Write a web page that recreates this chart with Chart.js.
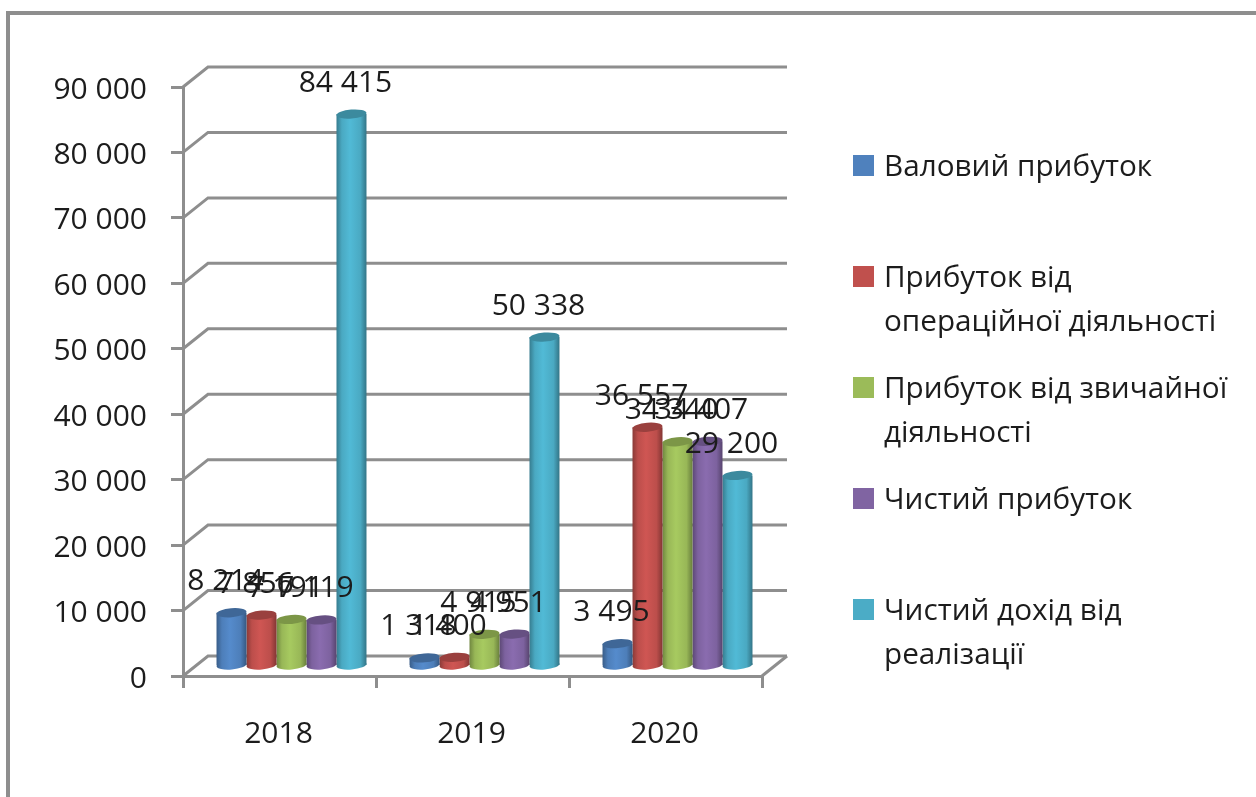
<!DOCTYPE html>
<html lang="uk">
<head>
<meta charset="utf-8">
<title>Прибуток</title>
<script src="https://cdn.jsdelivr.net/npm/chart.js@4"></script>
<style>
html,body{margin:0;padding:0;background:#fff;overflow:hidden}
canvas{display:block;filter:blur(0.6px)}
</style>
</head>
<body>
<canvas id="c" width="1256" height="797"></canvas>
<script>
const years = ['2018', '2019', '2020'];
const grossProfit = [8214, 1318, 3495];
const operatingProfit = [7856, 1400, 36557];
const ordinaryProfit = [7191, 4915, 34340];
const netProfit = [7119, 4951, 34407];
const netRevenue = [84415, 50338, 29200];
const seriesNames = ['Валовий прибуток', 'Прибуток від операційної діяльності', 'Прибуток від звичайної діяльності', 'Чистий прибуток', 'Чистий дохід від реалізації'];
const legendLines = [['Валовий прибуток'], ['Прибуток від', 'операційної діяльності'], ['Прибуток від звичайної', 'діяльності'], ['Чистий прибуток'], ['Чистий дохід від', 'реалізації']];
const seriesColors = ['#4f81bd', '#c0504d', '#9bbb59', '#8064a2', '#4bacc6'];
const yMax = 90000, yStep = 10000;

const FONT = '"Open Sans"';
const TEXT = '#1c1c1c';
const GRID = '#8e8e8e';
const fmt = v => String(v).replace(/\B(?=(\d{3})+$)/g, ' ');
function shade(hex, k) {
  const n = parseInt(hex.slice(1), 16);
  const c = s => Math.max(0, Math.min(255, Math.round(((n >> s) & 255) * k)));
  return `rgb(${c(16)},${c(8)},${c(0)})`;
}
const DEPTH_DX = 25, DEPTH_DY = -20;   // wall depth
const BAR_DX = 12, BAR_DY = -9.5;      // bars sit inside the box
const CAP_RY = 4.5;
const CAP_TILT = -0.08;

const scene = {
  id: 'scene',
  beforeDraw(chart) {
    const { ctx, chartArea: a, scales: { y } } = chart;
    ctx.save();
    ctx.fillStyle = '#fff';
    ctx.fillRect(0, 0, chart.width, chart.height);
    ctx.strokeStyle = GRID;
    ctx.lineWidth = 4;
    ctx.beginPath();
    ctx.moveTo(8, chart.height);
    ctx.lineTo(8, 13);
    ctx.lineTo(chart.width, 13);
    ctx.stroke();
    ctx.lineWidth = 3;
    y.ticks.forEach(t => {
      const py = y.getPixelForValue(t.value);
      ctx.beginPath();
      ctx.moveTo(a.left, py);
      ctx.lineTo(a.left + DEPTH_DX, py + DEPTH_DY);
      ctx.lineTo(a.right + DEPTH_DX, py + DEPTH_DY);
      ctx.stroke();
    });
    const p0 = y.getPixelForValue(0);
    ctx.beginPath();
    ctx.moveTo(a.right, p0);
    ctx.lineTo(a.right + DEPTH_DX, p0 + DEPTH_DY);
    ctx.stroke();
    ctx.restore();
  },
  beforeDatasetsDraw(chart) {
    const { ctx } = chart;
    ctx.save();
    ctx.translate(BAR_DX, BAR_DY);
    chart.data.datasets.forEach((ds, i) => {
      chart.getDatasetMeta(i).data.forEach(bar => {
        const w = bar.width, base = seriesColors[i];
        const g = ctx.createLinearGradient(bar.x - w / 2, 0, bar.x + w / 2, 0);
        g.addColorStop(0, shade(base, 0.72));
        g.addColorStop(0.18, shade(base, 0.98));
        g.addColorStop(0.45, shade(base, 1.08));
        g.addColorStop(0.8, shade(base, 0.98));
        g.addColorStop(1, shade(base, 0.68));
        bar.options = Object.assign({}, bar.options, { backgroundColor: g, borderWidth: 0 });
        ctx.fillStyle = g;
        ctx.beginPath();
        ctx.ellipse(bar.x, bar.base, w / 2, CAP_RY, CAP_TILT, 0, Math.PI * 2);
        ctx.fill();
      });
    });
  },
  afterDatasetsDraw(chart) {
    const { ctx } = chart;
    chart.data.datasets.forEach((ds, i) => {
      chart.getDatasetMeta(i).data.forEach(bar => {
        ctx.fillStyle = shade(seriesColors[i], 0.8);
        ctx.beginPath();
        ctx.ellipse(bar.x, bar.y, bar.width / 2, CAP_RY, CAP_TILT, 0, Math.PI * 2);
        ctx.fill();
      });
    });
    ctx.restore();

    ctx.save();
    ctx.fillStyle = TEXT;
    ctx.font = `30px ${FONT}`;
    ctx.textAlign = 'center';
    ctx.textBaseline = 'middle';
    chart.data.datasets.forEach((ds, i) => {
      chart.getDatasetMeta(i).data.forEach((bar, j) => {
        ctx.fillText(fmt(ds.data[j]), bar.x + BAR_DX - 6, bar.y + BAR_DY - 31);
      });
    });
    // legend
    ctx.textAlign = 'left';
    ctx.textBaseline = 'alphabetic';
    ctx.font = `29.7px ${FONT}`;
    legendLines.forEach((lines, i) => {
      const top = 155 + i * 111;
      ctx.fillStyle = seriesColors[i];
      ctx.fillRect(853, top, 21, 21);
      ctx.fillStyle = TEXT;
      lines.forEach((l, k) => ctx.fillText(l, 884, top + 21 + k * 43.5));
    });
    ctx.restore();
  }
};

new Chart(document.getElementById('c'), {
  type: 'bar',
  data: {
    labels: years,
    datasets: [grossProfit, operatingProfit, ordinaryProfit, netProfit, netRevenue].map((d, i) => ({
      label: seriesNames[i],
      data: d,
      backgroundColor: seriesColors[i],
      barPercentage: 1,
      categoryPercentage: 0.777
    }))
  },
  options: {
    responsive: false,
    animation: false,
    devicePixelRatio: 1,
    layout: { padding: { left: 0, right: 494, top: 87, bottom: 0 } },
    plugins: { legend: { display: false }, tooltip: { enabled: false } },
    scales: {
      x: {
        afterFit(s) { s.height = 121; },
        grid: { drawOnChartArea: false, color: GRID, lineWidth: 3, tickLength: 12 },
        border: { color: GRID, width: 3 },
        ticks: { color: TEXT, font: { family: 'Open Sans', size: 30 }, padding: 28, labelOffset: -1, maxRotation: 0 }
      },
      y: {
        min: 0,
        max: yMax,
        afterFit(s) { s.width = 183; },
        grid: { drawOnChartArea: false, color: GRID, lineWidth: 3, tickLength: 12 },
        border: { color: GRID, width: 3 },
        ticks: { stepSize: yStep, color: TEXT, font: { family: 'Open Sans', size: 30 }, padding: 24, labelOffset: 3, callback: v => fmt(v) }
      }
    }
  },
  plugins: [scene]
});
</script>
</body>
</html>
